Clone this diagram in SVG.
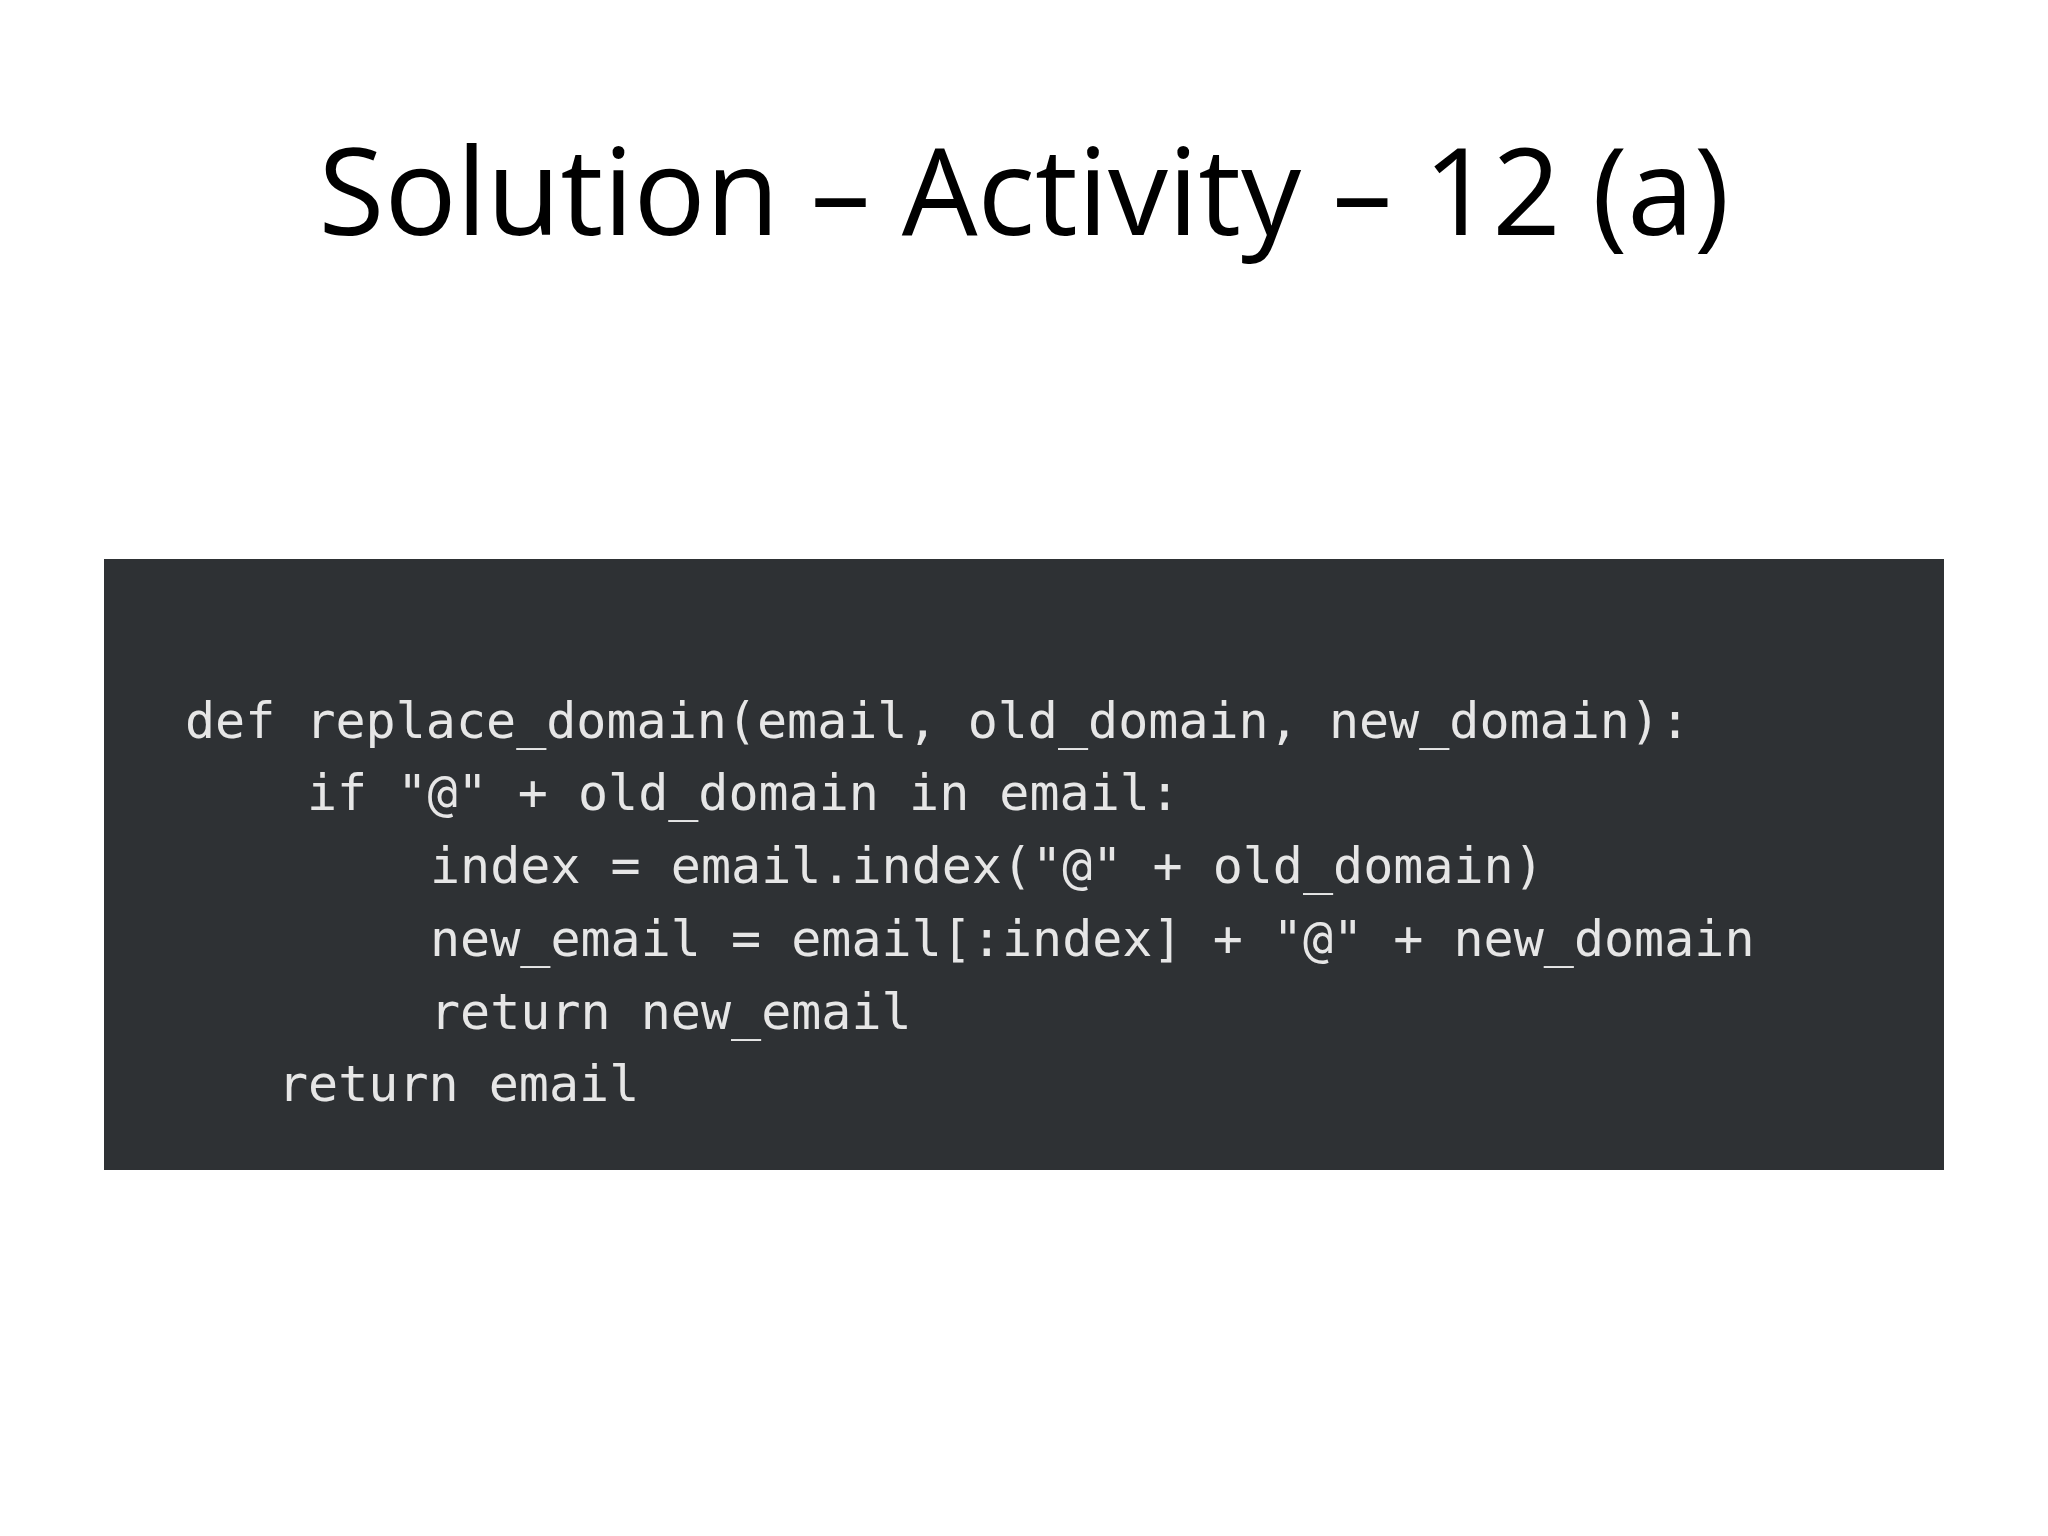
<svg xmlns="http://www.w3.org/2000/svg" width="2048" height="1536" viewBox="0 0 2048 1536">
<style>
.t{font-family:"Open Sans","Liberation Sans",sans-serif;font-size:120px;fill:#000}
.c{font-family:"DejaVu Sans Mono","Liberation Mono",monospace;font-size:50px;fill:#e6e6e6}
</style>
<rect width="2048" height="1536" fill="#fff"/>
<text id="title" class="t" x="1024" y="235" text-anchor="middle">Solution – Activity – 12 (a)</text>
<g id="code">
<rect x="104" y="559" width="1840" height="611" fill="#2e3134"/>
<text class="c" x="185" y="738">def replace_domain(email, old_domain, new_domain):</text>
<text class="c" x="307" y="810">if "@" + old_domain in email:</text>
<text class="c" x="430" y="883">index = email.index("@" + old_domain)</text>
<text class="c" x="430" y="956">new_email = email[:index] + "@" + new_domain</text>
<text class="c" x="430" y="1029">return new_email</text>
<text class="c" x="278" y="1101">return email</text>
</g>
</svg>
